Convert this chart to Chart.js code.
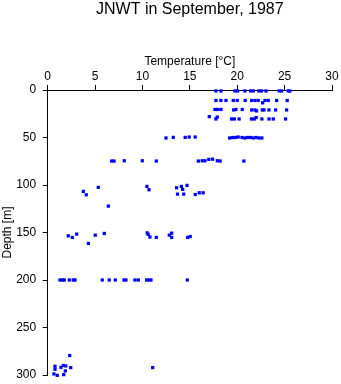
<!DOCTYPE html>
<html>
<head>
<meta charset="utf-8">
<script src="https://cdn.jsdelivr.net/npm/chart.js@4.4.1/dist/chart.umd.min.js"></script>
<style>
  html, body { margin: 0; padding: 0; background: #fff; }
  #wrap { width: 341px; height: 384px; }
</style>
</head>
<body>
<div id="wrap"><canvas id="jnwt"></canvas></div>
<script>
// temperature [°C] and depth [m], point by point
var temperature = [
  17.75, 18.28, 19.76, 20.04, 20.81, 21.41, 21.69, 22.29, 22.57, 23.03, 24.43, 24.68, 25.38, 25.56,
  17.75, 18.28, 18.81, 19.58, 20.0, 20.84, 21.52, 21.87, 22.21, 22.68, 22.93, 23.27, 24.16, 25.27,
  17.65, 17.93, 18.28, 19.62, 19.86, 20.53, 21.52, 21.87, 22.04, 22.64, 22.82, 23.35, 24.05, 25.21,
  17.05, 17.75, 17.89, 19.4, 19.7, 20.2, 21.5, 21.8, 22.0, 22.6, 23.35, 23.8, 25.1,
  12.48, 13.25, 14.51, 14.93, 15.56, 19.2, 19.5, 19.8, 20.1, 20.5, 20.8, 21.1, 21.4, 21.7, 22.0, 22.3, 22.6,
  6.75, 7.0, 8.08, 9.98, 11.46, 15.9, 16.3, 16.6, 17.0, 17.4, 17.9, 18.2, 20.7,
  3.76, 4.07, 5.34, 6.4, 10.47, 10.69, 13.6, 13.7, 14.1, 14.24, 14.35, 14.7, 15.57, 15.99, 16.4,
  2.17, 2.6, 3.06, 4.29, 5.02, 5.97, 10.5, 10.6, 10.79, 11.46, 12.83, 13.08, 13.08, 14.77, 15.04,
  1.3, 1.54, 1.75, 2.28, 2.7, 2.88, 5.76, 6.5, 7.13, 8.05, 8.26, 9.21, 9.56, 10.44, 10.69, 10.9, 14.73,
  0.77, 0.77, 0.66, 1.01, 1.4, 1.65, 1.9, 1.86, 1.69, 2.32, 2.43, 11.08
];
var depth = [
  1, 1, 1, 1, 1, 1, 1, 1, 1, 1, 1, 1, 1, 1,
  11, 11, 11, 11, 11, 11, 11, 11, 11, 13.5, 11, 11, 11, 11,
  20.5, 20.5, 20.5, 21, 20.5, 20.5, 21, 21, 22, 21, 21, 21, 21, 21,
  28, 30.5, 28.5, 30.5, 30.5, 30.5, 30.5, 30.5, 29, 30.5, 30.5, 30.5, 30.5,
  50.5, 49.9, 49.9, 49.5, 49.5, 50.5, 50, 50, 49.5, 50, 50.5, 50, 50, 50.5, 50, 50.5, 50.5,
  74.8, 74.8, 74.5, 74.5, 74.8, 74.8, 74.5, 74.5, 73, 72.8, 74.5, 74.8, 74.8,
  106.7, 110.3, 102.5, 122.2, 101.5, 105, 102.9, 109.6, 101.5, 104.6, 109.6, 100.4, 110, 108.2, 108.2,
  153.5, 155.2, 151.7, 161.5, 152.8, 151, 150.4, 152, 154.8, 155.2, 152.8, 150.7, 155.2, 155.2, 154.2,
  200, 200, 200, 200, 200, 200, 200, 200, 200, 200, 200, 200, 200, 200, 200, 200, 200,
  290.8, 294, 298.9, 300.4, 291.9, 290, 290.4, 295.7, 299.6, 279.5, 292.2, 292.2
];
var tempTicks = [0, 5, 10, 15, 20, 25, 30];
var depthTicks = [0, 50, 100, 150, 200, 250, 300];

var points = [];
for (var i = 0; i < temperature.length; i++) {
  points.push({ x: temperature[i], y: depth[i] });
}

var fontName = "'Liberation Sans', Arial, sans-serif";

// title is centred over the plot, not over the whole canvas
var centreTitle = {
  id: 'centreTitle',
  afterLayout: function (chart) {
    var tb = chart.titleBlock;
    if (tb) {
      tb.left = chart.chartArea.left;
      tb.right = chart.chartArea.right;
    }
  }
};

var ctx = document.getElementById('jnwt');
var chart = new Chart(ctx, {
  type: 'scatter',
  data: {
    datasets: [{
      label: 'JNWT',
      data: points,
      backgroundColor: 'rgb(0, 0, 255)',
      borderWidth: 0,
      pointStyle: 'rect',
      pointRadius: 2.3,
      pointHoverRadius: 2.3,
      clip: false
    }]
  },
  options: {
    responsive: true,
    maintainAspectRatio: false,
    animation: false,
    layout: { padding: { left: 0, right: 9, top: 0, bottom: 9 } },
    plugins: {
      legend: { display: false },
      tooltip: { enabled: false },
      title: {
        display: true,
        text: 'JNWT in September, 1987',
        color: '#000',
        font: { family: fontName, size: 16, weight: 'normal' },
        padding: { top: 0, bottom: 0 }
      }
    },
    scales: {
      x: {
        type: 'linear',
        position: 'top',
        min: 0,
        max: 30,
        afterBuildTicks: function (s) { s.ticks = tempTicks.map(function (v) { return { value: v }; }); },
        afterFit: function (s) { s.height = 70.8; },
        grid: { drawOnChartArea: false, drawTicks: true, tickLength: 5, color: '#000' },
        border: { display: true, color: '#000', width: 1 },
        ticks: { color: '#000', padding: 1, maxRotation: 0, font: { family: fontName, size: 12 } },
        title: {
          display: true,
          text: 'Temperature [°C]',
          color: '#000',
          font: { family: fontName, size: 12 },
          padding: { top: 35, bottom: 0 }
        }
      },
      y: {
        type: 'linear',
        reverse: true,
        min: 0,
        max: 300,
        afterBuildTicks: function (s) { s.ticks = depthTicks.map(function (v) { return { value: v }; }); },
        afterFit: function (s) {
          s.width = 47.7;
          s.paddingTop = 0;
          s.paddingBottom = 0;
        },
        grid: { drawOnChartArea: false, drawTicks: true, tickLength: 5, color: '#000' },
        border: { display: true, color: '#000', width: 1 },
        ticks: { color: '#000', padding: 6.5, font: { family: fontName, size: 12 } },
        title: {
          display: true,
          text: 'Depth [m]',
          color: '#000',
          font: { family: fontName, size: 12 },
          padding: { top: 0, bottom: 0 }
        }
      }
    }
  },
  plugins: [centreTitle]
});
</script>
</body>
</html>
